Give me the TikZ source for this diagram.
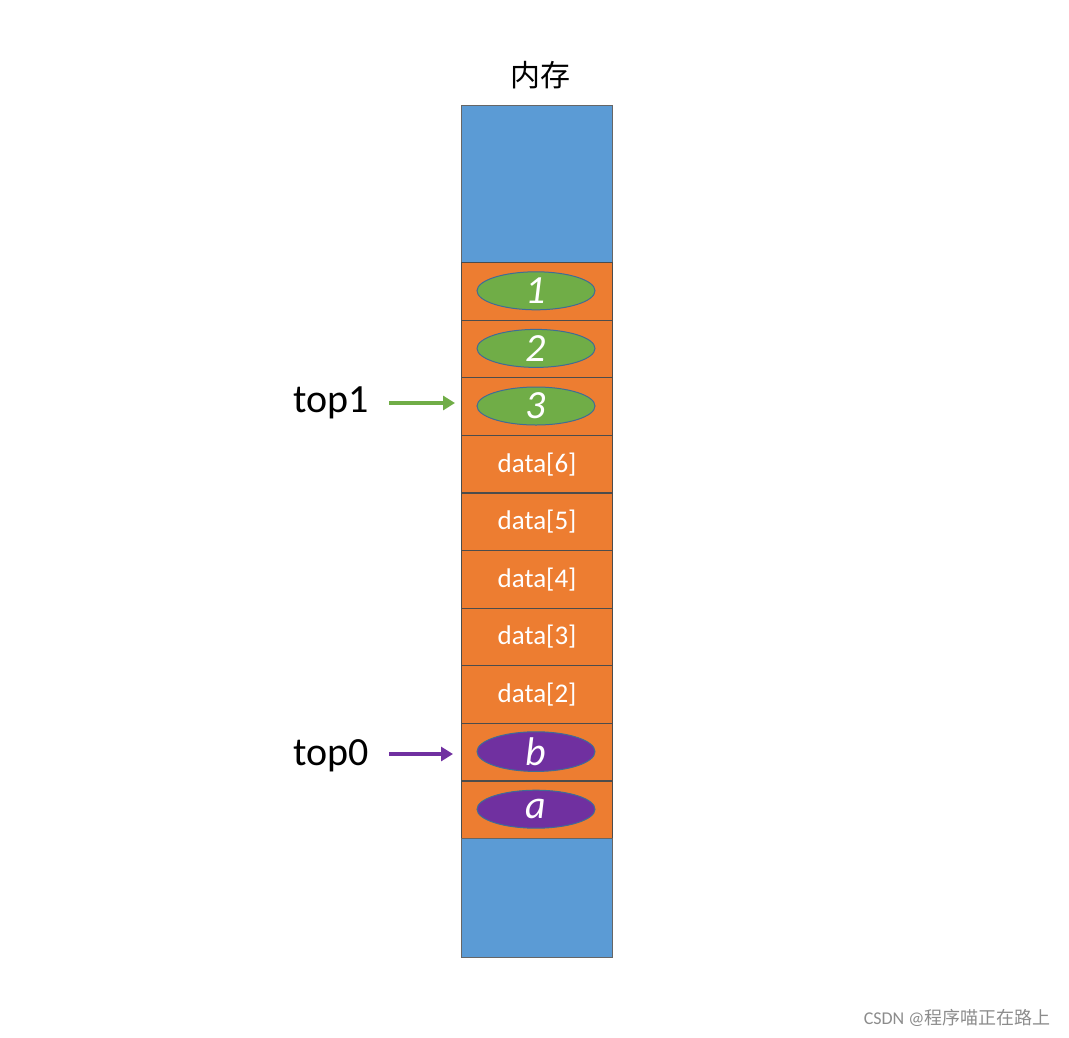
\documentclass[tikz,border=0pt]{standalone}
\usepackage{fontspec}
\setmainfont{Carlito}
\newfontfamily\cjk{Noto Sans CJK SC}
\usetikzlibrary{arrows.meta,shapes.geometric}
\definecolor{mblue}{HTML}{5B9BD5}
\definecolor{morange}{HTML}{ED7D31}
\definecolor{mgreen}{HTML}{70AD47}
\definecolor{mpurple}{HTML}{7030A0}
\begin{document}
\begin{tikzpicture}[x=1pt,y=-1pt,
  cell/.style={draw=black!70,line width=1.2pt,fill=morange,minimum width=151pt,minimum height=57.6pt,inner sep=0pt,anchor=north west,text=white,font=\fontsize{27}{30}\selectfont},
  blk/.style={draw=black!60,line width=0.8pt,fill=mblue,anchor=north west,minimum width=151pt,inner sep=0pt},
  ell/.style={ellipse,draw=mblue!70!black,line width=1pt,minimum width=118pt,minimum height=38pt,inner sep=0pt,text=white,font=\fontsize{40}{40}\selectfont\itshape},
  lab/.style={font=\fontsize{40}{44}\selectfont},
  arr/.style={-{Triangle[length=12pt,width=14pt]},line width=3.5pt}]
\useasboundingbox (0,0) rectangle (1069,1037);
\node[font=\cjk\fontsize{30}{32}\selectfont] (title) at (540,75) {内存};
\node[blk,minimum height=157pt] (topb) at (461,105) {};
\foreach \i/\t in {0/,1/,2/,3/data[6],4/data[5],5/data[4],6/data[3],7/data[2],8/,9/}{
  \node[cell] (c\i) at (461,{262+57.6*\i}) {\t};
}
\node[blk,minimum height=119pt] (botb) at (461,838) {};
\node[ell,fill=mgreen] (e1) at (536,{262+28.8}) {1};
\node[ell,fill=mgreen] (e2) at (536,{262+28.8+57.6}) {2};
\node[ell,fill=mgreen] (e3) at (536,{262+28.8+2*57.6}) {3};
\node[ell,fill=mpurple] (eb) at (536,{262+28.8+8*57.6}) {b};
\node[ell,fill=mpurple] (ea) at (536,{262+28.8+9*57.6}) {a};
\node[lab] (t1) at (331,403) {top1};
\node[lab] (t0) at (331,756) {top0};
\coordinate (d1) at (455,403);
\coordinate (d0) at (453,754);
\draw[arr,mgreen] ([xshift=17pt]t1.east) -- (d1);
\draw[arr,mpurple] ([xshift=17pt,yshift=2pt]t0.east) -- (d0);
\node[text=black!45,font=\fontsize{18}{20}\selectfont,anchor=east] (wm) at (1054,1018) {CSDN @{\cjk 程序喵正在路上}};
\end{tikzpicture}
\end{document}
